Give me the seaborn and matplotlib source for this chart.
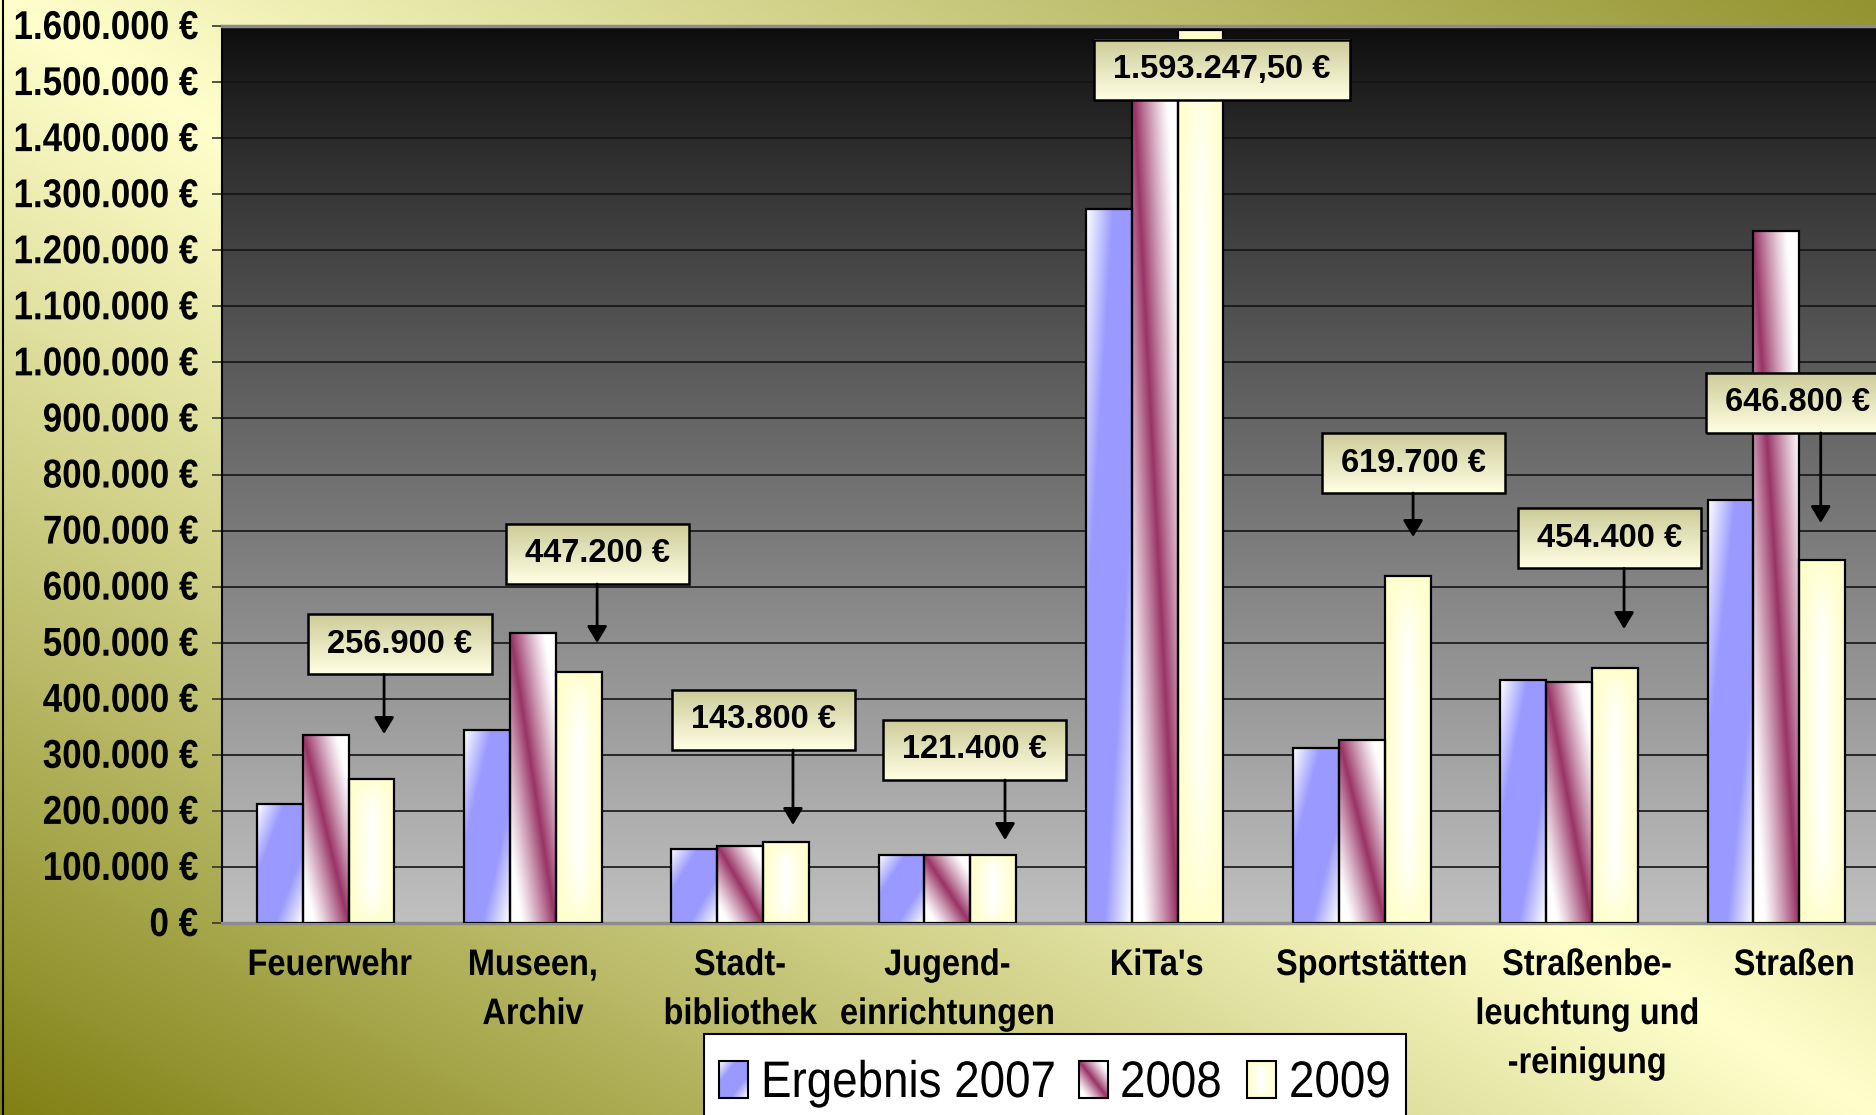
import numpy as np
import pandas as pd
import matplotlib
matplotlib.use("Agg")
import matplotlib.pyplot as plt
import seaborn as sns
from matplotlib.patches import Rectangle
from matplotlib.patheffects import AbstractPathEffect
from matplotlib.transforms import Affine2D, ScaledTranslation
from matplotlib.path import Path
from matplotlib.lines import Line2D

# ---------------------------------------------------------------- data
bereiche = ["Feuerwehr", "Museen,\nArchiv", "Stadt-\nbibliothek", "Jugend-\neinrichtungen",
            "KiTa's", "Sportstätten", "Straßenbe-\nleuchtung und\n-reinigung", "Straßen"]
jahre = ["Ergebnis 2007", "2008", "2009"]
werte_2007 = [212000, 344000, 132000, 121500, 1274000, 312000, 433000, 755000]
werte_2008 = [335000, 518000, 138000, 121000, 1530000, 326000, 429000, 1234000]
werte_2009 = [256900, 447200, 143800, 121400, 1593247.50, 619700, 454400, 646800]
y_ticks = list(range(0, 1_600_001, 100_000))

# callouts for the 2009 values: box centre (x, y) and arrow (x, tip y), data units
callout_box = [(0.359, 496800), (1.310, 658200), (2.111, 362100), (3.129, 308600),
               (4.325, 1521600), (5.247, 820500), (6.193, 685900), (7.100, 927600)]
callout_arrow = [(0.282, 337100), (1.310, 499500), (2.255, 174800), (3.278, 148000),
                 None, (5.247, 688500), (6.265, 524400), (7.214, 713500)]

# horizontal nudge of the category labels, pixels
label_shift = [4, 0, 0, 0, 2, 10, 18, 18]

# ---------------------------------------------------------------- style
W, H = 1876, 1115
SANS = ["Liberation Sans", "DejaVu Sans"]
BLUE = np.array([153, 153, 255]) / 255
MAROON = np.array([153, 51, 102]) / 255
YELLOW = np.array([255, 255, 204]) / 255
WHITE = np.ones(3)


class Stretch(AbstractPathEffect):
    """Draw text scaled by (sx, sy) around the baseline and a left/center/right anchor."""

    def __init__(self, sx=1.0, sy=1.0, anchor="center"):
        super().__init__()
        self._sx = sx
        self._sy = sy
        self._anchor = anchor

    def draw_path(self, renderer, gc, tpath, affine, rgbFace=None):
        v = tpath.vertices
        a = 0.0
        if self._anchor != "left" and len(v):
            if tpath.codes is not None:
                v = v[tpath.codes != Path.CLOSEPOLY]
            x0, x1 = v[:, 0].min(), v[:, 0].max()
            a = x1 if self._anchor == "right" else (x0 + x1) / 2
        t = Affine2D().translate(-a, 0).scale(self._sx, self._sy).translate(a, 0)
        renderer.draw_path(gc, tpath, t + affine, rgbFace)


def euro(v):
    s = f"{v:,.0f}" if float(v).is_integer() else f"{v:,.2f}"
    return s.replace(",", "X").replace(".", ",").replace("X", ".") + " €"


def bar_fill(kind, ny=160, nx=48):
    u = np.linspace(0, 1, nx)[None, :]
    v = np.linspace(0, 1, ny)[:, None]
    if kind == 0:
        t = (u + v) / 2
        m = np.clip((0.5 - np.abs(t - 0.5)) / 0.3, 0, 1)
        base = BLUE
    elif kind == 1:
        t = ((1 - u) + v) / 2
        m = np.clip(1 - np.abs(t - 0.5) / 0.38, 0, 1) ** 1.2
        base = MAROON
    else:
        wh = np.clip(1 - np.abs(2 * u - 1), 0, 1) ** 1.1 * np.clip(1 - np.abs(2 * v - 1) ** 4, 0, 1)
        m = 1 - wh
        base = YELLOW
    return WHITE + (base - WHITE) * m[..., None]


fig = plt.figure(figsize=(W / 100, H / 100), dpi=100)

# page background: light along the main diagonal, olive towards the other corners
bg = fig.add_axes([0, 0, 1, 1], zorder=-10)
u = np.linspace(0, 1, 600)[None, :]
v = np.linspace(0, 1, 360)[:, None]
t = np.abs(u - v) * (0.85 + 0.15 * v)
light = np.array([255, 255, 204]) / 255
dark = np.array([128, 128, 20]) / 255
bg.imshow(light + (dark - light) * t[..., None], extent=[0, 1, 0, 1], origin="upper",
          aspect="auto", interpolation="bilinear")
bg.set_xlim(0, 1)
bg.set_ylim(0, 1)
bg.axis("off")

rect = [222 / W, (H - 923) / H, (1880 - 222) / W, (923 - 26) / H]

# plot area: dark at the top fading to light grey
pa = fig.add_axes(rect, zorder=-5)
g = np.linspace(0, 1, 400)[:, None]
shade = (12 + 180 * g ** 0.85) / 255
pa.imshow(np.repeat(np.dstack([shade] * 3), 2, axis=1), extent=[0, 1, 0, 1], origin="upper",
          aspect="auto", interpolation="bilinear")
pa.set_xlim(0, 1)
pa.set_ylim(0, 1)
pa.axis("off")

ax = fig.add_axes(rect)
ax.set_facecolor("none")

df = pd.DataFrame({
    "Bereich": bereiche * 3,
    "Jahr": [j for j in jahre for _ in bereiche],
    "Betrag": werte_2007 + werte_2008 + werte_2009,
})

sns.barplot(data=df, x="Bereich", y="Betrag", hue="Jahr", order=bereiche, hue_order=jahre,
            palette=[BLUE, MAROON, YELLOW], width=0.663, gap=0, saturation=1,
            edgecolor="black", linewidth=1.6, errorbar=None, legend=False, ax=ax)

ax.set_xlim(-0.5, 7.5)
ax.set_ylim(0, 1_600_000)

# gradient fills clipped to each bar
for kind, cont in enumerate(list(ax.containers)[:3]):
    for p in cont.patches:
        x0, w, h = p.get_x(), p.get_width(), p.get_height()
        im = ax.imshow(bar_fill(kind), extent=(x0, x0 + w, 0, h), origin="upper",
                       aspect="auto", interpolation="bilinear", zorder=3)
        im.set_clip_path(p)
        p.set_facecolor("none")
        p.set_zorder(4)

ax.set_xlim(-0.5, 7.5)
ax.set_ylim(0, 1_600_000)

ax.yaxis.grid(True, color="#141414", lw=1.2)
ax.xaxis.grid(False)
ax.set_axisbelow(True)
ax.tick_params(axis="y", length=7.2, width=1.2, color="#333333", pad=10)
ax.tick_params(axis="x", length=0, pad=18)

ax.set_yticks(y_ticks)
ax.set_yticklabels([euro(v) for v in y_ticks], fontsize=25.2, fontweight="bold", family=SANS)
ax.set_xticks(range(len(bereiche)))
ax.set_xticklabels(bereiche, fontsize=26.6, fontweight="bold", family=SANS, linespacing=1.52)
for lbl in ax.get_yticklabels():
    lbl.set_path_effects([Stretch(1.0, 1.15, "right")])
for lbl, dx in zip(ax.get_xticklabels(), label_shift):
    lbl.set_path_effects([Stretch(0.88, 1.0, "center")])
    lbl.set_transform(lbl.get_transform() + ScaledTranslation(dx / 100, 0, fig.dpi_scale_trans))
ax.set_xlabel("")
ax.set_ylabel("")
ax.spines["right"].set_visible(False)
ax.spines["left"].set_color("black")
ax.spines["left"].set_linewidth(1.5)
ax.spines["top"].set_color("#8c8c8c")
ax.spines["top"].set_linewidth(2.5)
ax.spines["bottom"].set_color("#8c8c8c")
ax.spines["bottom"].set_linewidth(2.5)

# callout labels for 2009
texts = []
for val, (bx, by) in zip(werte_2009, callout_box):
    texts.append(ax.text(bx, by, euro(val), ha="center", va="center", fontsize=23.5,
                         fontweight="bold", family=SANS, zorder=10, clip_on=False))

fig.canvas.draw()
r = fig.canvas.get_renderer()
inv = ax.transData.inverted()
gy = np.linspace(0, 1, 100)[:, None, None]
box_top = np.array([204, 204, 153]) / 255
box_bot = np.array([255, 255, 228]) / 255
box_grad = np.repeat(box_top + (box_bot - box_top) * gy, 4, axis=1)

for txt, (bx, by), arr in zip(texts, callout_box, callout_arrow):
    ext = txt.get_window_extent(r)
    cx, cy = ax.transData.transform((bx, by))
    hw, hh = ext.width / 2 + 19, 30
    x0, y0 = inv.transform((cx - hw, cy - hh))
    x1, y1 = inv.transform((cx + hw, cy + hh))
    ax.imshow(box_grad, extent=(x0, x1, y0, y1), origin="upper", aspect="auto",
              interpolation="bilinear", zorder=8, clip_on=False)
    ax.add_patch(Rectangle((x0, y0), x1 - x0, y1 - y0, fill=False, ec="black", lw=1.8,
                           zorder=9, clip_on=False))
    if arr is not None:
        ax.annotate("", xy=(arr[0], arr[1]), xytext=(arr[0], y0),
                    arrowprops=dict(arrowstyle="-|>,head_length=0.5,head_width=0.3",
                                    mutation_scale=20, color="black", lw=2,
                                    shrinkA=0, shrinkB=0), zorder=9)

ax.set_xlim(-0.5, 7.5)
ax.set_ylim(0, 1_600_000)


# legend box below the categories (pixel layout, top-left origin)
def fx(px):
    return px / W


def fy(py):
    return 1 - py / H


fig.add_artist(Rectangle((fx(704), fy(1128)), fx(1406) - fx(704), fy(1034) - fy(1128),
                         transform=fig.transFigure, fc="white", ec="black", lw=1.5, zorder=5))
legend_items = [(719, 761, jahre[0]), (1079, 1120, jahre[1]), (1247, 1289, jahre[2])]
hw_px, hh_px, htop = 29, 37, 1061
for kind, (hx, tx, label) in enumerate(legend_items):
    fig.figimage(bar_fill(kind, ny=hh_px, nx=hw_px), xo=hx, yo=H - (htop + hh_px),
                 origin="upper", zorder=6)
    fig.add_artist(Rectangle((fx(hx), fy(htop + hh_px)), hw_px / W, hh_px / H,
                             transform=fig.transFigure, fill=False, ec="black", lw=1.5, zorder=7))
    fig.text(fx(tx), fy(1097), label, ha="left", va="baseline", fontsize=37, family=SANS,
             zorder=7, path_effects=[Stretch(0.89, 1.0, "left")])

fig.add_artist(Line2D([2.5 / W, 2.5 / W], [0, 1], color="black", lw=1.5,
                      transform=fig.transFigure))

fig.savefig("out.png", dpi=100)
